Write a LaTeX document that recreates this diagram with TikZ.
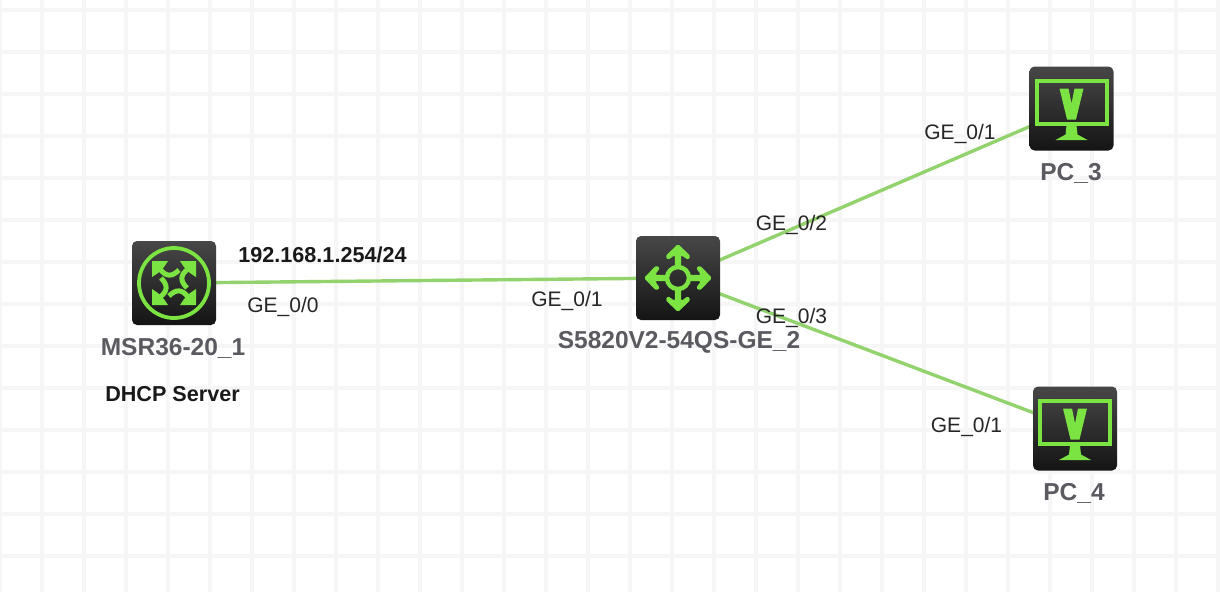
\documentclass[tikz,border=0pt]{standalone}
\usepackage{fontspec}
\setmainfont{Liberation Sans}
\usetikzlibrary{backgrounds}
\definecolor{linkgreen}{HTML}{92D36E}
\definecolor{icongreen}{HTML}{7BE342}
\definecolor{gridgrey}{HTML}{F6F6F6}
\definecolor{labelgrey}{HTML}{5A5A60}
\tikzset{
  x=1pt,y=-1pt,
  devbox/.style={minimum width=84pt,minimum height=84pt,inner sep=0pt,rounded corners=5pt,top color=black!72,bottom color=black!92,draw=none},
  link/.style={draw=linkgreen,line width=3.4pt},
  port/.style={font=\fontsize{21}{21}\selectfont,text=black!85,inner sep=0pt},
  devname/.style={font=\fontsize{24.5}{24.5}\selectfont\bfseries,text=labelgrey,inner sep=0pt},
  note/.style={font=\fontsize{21.6}{21.6}\selectfont\bfseries,text=black!90,inner sep=0pt},
  gridline/.style={draw=gridgrey,line width=3.5pt},
  glyph/.style={fill=icongreen,draw=none},
  glyphline/.style={draw=icongreen,line width=4pt},
}
\newcommand{\pcicon}[1]{%
  \begin{scope}[shift={(#1)}]
    \draw[glyphline] (-35,-28) rectangle (35,15.5);
    \fill[glyph] (-12,-20) -- (-3,-20) -- (0,-5) -- (3,-20) -- (12,-20) -- (4.5,11) -- (-4.5,11) -- cycle;
    \fill[glyph] (-5,17) -- (5,17) -- (6,26) -- (16,31.5) -- (-16,31.5) -- (-6,26) -- cycle;
  \end{scope}}
\newcommand{\switchicon}[1]{%
  \begin{scope}[shift={(#1)}]
    \draw[draw=icongreen,line width=4.5pt] (0,0) circle (11);
    \foreach \a in {0,90,180,270}{
      \begin{scope}[rotate=\a]
        \fill[glyph,rounded corners=1.5pt] (11,-3.2) -- (23,-3.2) -- (18,-10) -- (22,-12.5) -- (34,0) -- (22,12.5) -- (18,10) -- (23,3.2) -- (11,3.2) -- cycle;
      \end{scope}}
  \end{scope}}
\newcommand{\routericon}[1]{%
  \begin{scope}[shift={(#1)}]
    \draw[draw=icongreen,line width=3.8pt] (0,0) circle (35);
    \foreach \a in {0,90,180,270}{
      \begin{scope}[rotate=\a]
        \fill[glyph] (-22,-22) -- (-6,-22) -- (-10,-16) -- (-16,-10) -- (-22,-6) -- cycle;
        \draw[icongreen,line width=5pt] (-14,-14) .. controls (-8,-6) and (-2,-6) .. (5,-13);
      \end{scope}}
  \end{scope}}
\begin{document}
\begin{tikzpicture}
\useasboundingbox (0,0) rectangle (1220,592);
\node[devbox] (router) at (174,283) {};
\node[devbox] (switch) at (678,278) {};
\node[devbox] (pca) at (1071.5,108.5) {};
\node[devbox] (pcb) at (1075,428.5) {};
\routericon{router.center}
\switchicon{switch.center}
\pcicon{pca.center}
\pcicon{pcb.center}
\begin{scope}[on background layer]
  \fill[white] (0,0) rectangle (1220,592);
  \foreach \x in {0,42,...,1218} \draw[gridline] (\x,0) -- (\x,592);
  \foreach \y in {10,52,...,580} \draw[gridline] (0,\y) -- (1220,\y);
  \draw[link] (router.center) -- (switch.center);
  \draw[link] (switch.center) -- (pca.center);
  \draw[link] (switch.center) -- (pcb.center);
\end{scope}
\node[devname] (n1) at (173,348) {MSR36-20\_1};
\node[note] (n2) at (172.5,394) {DHCP Server};
\node[devname] (n3) at (679,342) {S5820V2-54QS-GE\_2};
\node[devname] (n4) at (1071,173) {PC\_3};
\node[devname] (n5) at (1074,493) {PC\_4};
\node[note] (ip) at (322.5,255) {192.168.1.254/24};
\node[port] (p1) at (283,306.5) {GE\_0/0};
\node[port] (p2) at (567,300.5) {GE\_0/1};
\node[port] (p3) at (791.5,224.5) {GE\_0/2};
\node[port] (p4) at (791.5,317.5) {GE\_0/3};
\node[port] (p5) at (960,133.5) {GE\_0/1};
\node[port] (p6) at (966.5,426.5) {GE\_0/1};
\end{tikzpicture}
\end{document}
